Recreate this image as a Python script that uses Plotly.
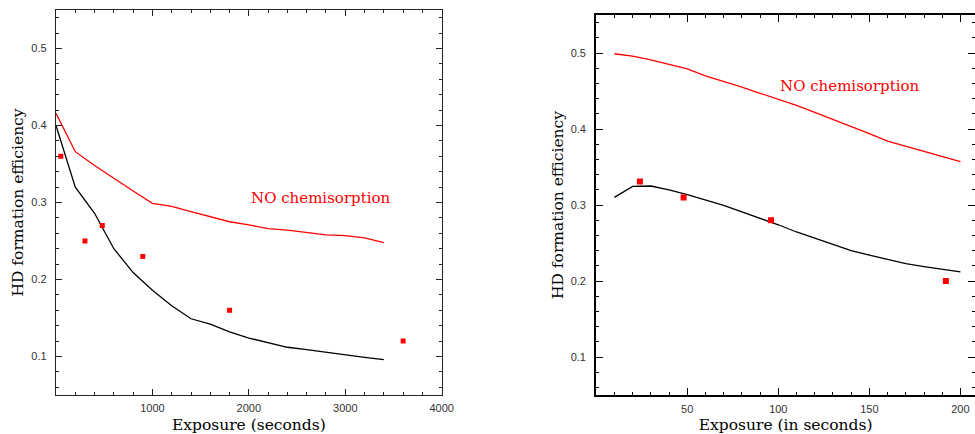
import plotly.graph_objects as go

# ---- Left panel data (Exposure in seconds) ----
left_x_line = [0, 200, 400, 600, 800, 1000, 1200, 1400, 1600, 1800, 2000, 2200, 2400, 2600, 2800, 3000, 3200, 3400]
left_red_line = [0.416, 0.366, 0.348, 0.331, 0.315, 0.299, 0.295, 0.288, 0.281, 0.275, 0.271, 0.266, 0.264, 0.261, 0.258, 0.257, 0.254, 0.248]
left_black_line = [0.400, 0.320, 0.286, 0.240, 0.209, 0.186, 0.166, 0.149, 0.142, 0.132, 0.124, 0.118, 0.112, 0.109, 0.1055, 0.102, 0.099, 0.096]
left_obs_x = [50, 300, 480, 900, 1800, 3600]
left_obs_y = [0.36, 0.25, 0.27, 0.23, 0.16, 0.12]

# ---- Right panel data (Exposure in seconds) ----
right_x_line = [10, 20, 30, 40, 50, 60, 70, 80, 90, 100, 110, 120, 130, 140, 150, 160, 170, 180, 190, 200]
right_red_line = [0.499, 0.496, 0.491, 0.485, 0.479, 0.470, 0.463, 0.455, 0.447, 0.4395, 0.431, 0.422, 0.413, 0.4035, 0.394, 0.384, 0.377, 0.370, 0.364, 0.357]
right_black_line = [0.310, 0.3245, 0.325, 0.320, 0.3135, 0.307, 0.2995, 0.291, 0.283, 0.274, 0.2645, 0.256, 0.248, 0.240, 0.234, 0.228, 0.223, 0.219, 0.215, 0.212]
right_obs_x = [24, 48, 96, 192]
right_obs_y = [0.331, 0.31, 0.28, 0.20]

left_xticks = [1000, 2000, 3000, 4000]
right_xticks = [50, 100, 150, 200]
yticks = [0.1, 0.2, 0.3, 0.4, 0.5]

RED = "#ff0000"
TICKFONT = dict(family="Liberation Sans, Arial, sans-serif", size=11, color="#333333")
TITLEFONT = dict(family="DejaVu Serif, serif", size=15.5, color="#000000")
NOTEFONT = dict(family="DejaVu Serif, serif", size=15, color=RED)

fig = go.Figure()

fig.add_trace(go.Scatter(x=left_x_line, y=left_red_line, mode="lines",
                         line=dict(color=RED, width=1.3), xaxis="x", yaxis="y", showlegend=False))
fig.add_trace(go.Scatter(x=left_x_line, y=left_black_line, mode="lines",
                         line=dict(color="#000000", width=1.3), xaxis="x", yaxis="y", showlegend=False))
fig.add_trace(go.Scatter(x=left_obs_x, y=left_obs_y, mode="markers",
                         marker=dict(symbol="square", size=5, color=RED), xaxis="x", yaxis="y", showlegend=False))

fig.add_trace(go.Scatter(x=right_x_line, y=right_red_line, mode="lines",
                         line=dict(color=RED, width=1.3), xaxis="x2", yaxis="y2", showlegend=False))
fig.add_trace(go.Scatter(x=right_x_line, y=right_black_line, mode="lines",
                         line=dict(color="#000000", width=1.3), xaxis="x2", yaxis="y2", showlegend=False))
fig.add_trace(go.Scatter(x=right_obs_x, y=right_obs_y, mode="markers",
                         marker=dict(symbol="square", size=6, color=RED), xaxis="x2", yaxis="y2", showlegend=False))

common_axis = dict(showgrid=False, zeroline=False, showline=True, mirror="ticks",
                   ticks="inside", tickfont=TICKFONT, automargin=False)

fig.update_layout(
    width=975, height=434, autosize=False,
    margin=dict(l=56, r=0, t=10, b=39),
    plot_bgcolor="white", paper_bgcolor="white",
    xaxis=dict(**common_axis, domain=[0, 0.4197], range=[0, 4000], anchor="y",
               tickmode="array", tickvals=left_xticks, ticklen=6, linecolor="#222222", linewidth=1.3,
               tickcolor="#222222", ticklabelstandoff=3,
               minor=dict(tickmode="linear", tick0=0, dtick=200, ticklen=3, ticks="inside", tickcolor="#222222"),
               title=dict(text="Exposure (seconds)", font=TITLEFONT, standoff=6)),
    yaxis=dict(**common_axis, domain=[0, 1], range=[0.05, 0.55], anchor="x",
               tickmode="array", tickvals=yticks, ticklen=6, linecolor="#222222", linewidth=1.3,
               tickcolor="#222222", ticklabelstandoff=6,
               minor=dict(tickmode="linear", tick0=0, dtick=0.02, ticklen=3, ticks="inside", tickcolor="#222222"),
               title=dict(text="HD formation efficiency", font=TITLEFONT, standoff=3)),
    xaxis2=dict(**common_axis, domain=[0.5878, 1], range=[0, 208], anchor="y2",
                tickmode="array", tickvals=right_xticks, ticklen=7, linecolor="#000000", linewidth=2,
                tickcolor="#000000", ticklabelstandoff=3,
                minor=dict(tickmode="linear", tick0=0, dtick=10, ticklen=3, ticks="inside", tickcolor="#000000"),
                title=dict(text="Exposure (in seconds)", font=TITLEFONT, standoff=6)),
    yaxis2=dict(**common_axis, domain=[0, 0.987], range=[0.05, 0.55], anchor="x2",
                tickmode="array", tickvals=yticks, ticklen=7, linecolor="#000000", linewidth=2,
                tickcolor="#000000", ticklabelstandoff=6,
                minor=dict(tickmode="linear", tick0=0, dtick=0.02, ticklen=3, ticks="inside", tickcolor="#000000"),
                title=dict(text="HD formation efficiency", font=TITLEFONT, standoff=3)),
    annotations=[
        dict(text="NO chemisorption", x=2000, y=0.306, xref="x", yref="y", xanchor="left", yanchor="middle",
             showarrow=False, font=NOTEFONT),
        dict(text="NO chemisorption", x=100, y=0.456, xref="x2", yref="y2", xanchor="left", yanchor="middle",
             showarrow=False, font=NOTEFONT),
    ],
)

# Remove the default 8px page margin so the figure fills the 975x434 window exactly.
post = ("document.body.style.margin='0';document.body.style.overflow='hidden';"
        "Plotly.relayout(document.getElementById('{plot_id}'),{width:975,height:434});")

fig.write_html("out.html", post_script=post,
               config={"responsive": False, "displayModeBar": False})
